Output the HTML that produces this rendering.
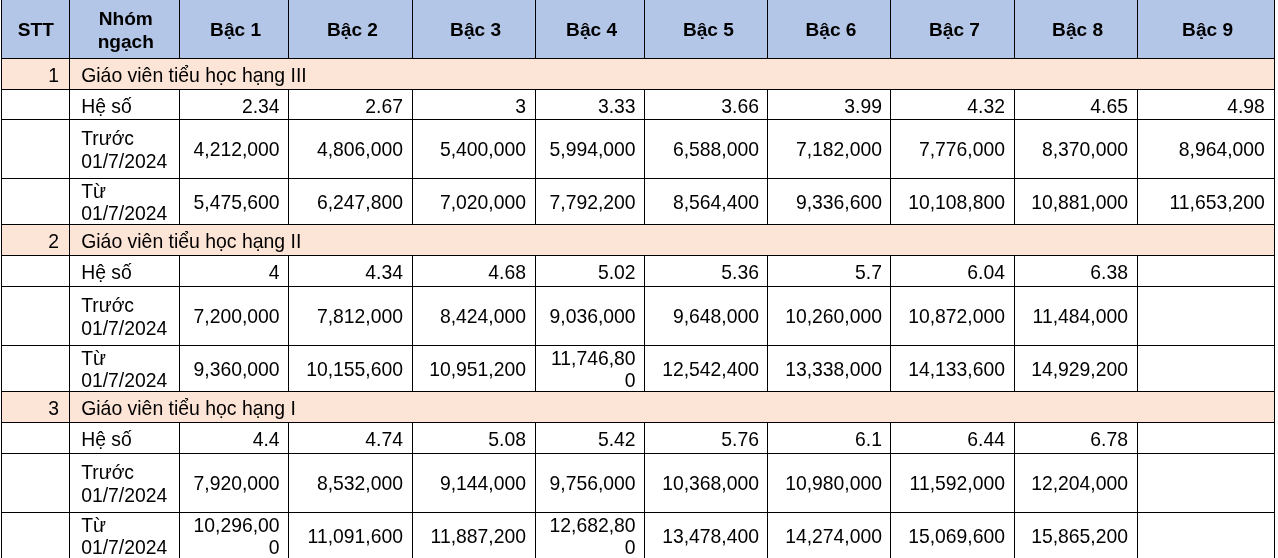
<!DOCTYPE html>
<html lang="vi"><head><meta charset="utf-8"><title>Bảng lương giáo viên tiểu học</title>
<style>
html,body{margin:0;padding:0;background:#fff;}
body{width:1278px;height:558px;overflow:hidden;position:relative;font-family:"Liberation Sans",Arial,sans-serif;font-size:19.35px;line-height:22px;color:#000;}
table{position:absolute;left:1px;top:0;width:1274px;border-collapse:separate;border-spacing:0;table-layout:fixed;}
td,th{position:relative;box-sizing:border-box;padding:0;margin:0;border:0 solid #000;border-right-width:1px;border-bottom-width:1px;white-space:nowrap;overflow:hidden;font-weight:normal;vertical-align:top;}
td:first-child,th:first-child{border-left-width:1px;}
td>span,th>span{position:absolute;left:0;right:0;display:block;height:22px;}
th{background:#b4c6e7;font-weight:bold;text-align:center;font-size:19.1px;}
.p{background:#fce4d6;}
.l{text-align:left;}
.l>span{left:11.2px;}
.r{text-align:right;}
.r>span{right:9px;}
td:nth-child(3)>span,td:nth-child(6)>span{right:8.4px;}
td:nth-child(7)>span,td:nth-child(8)>span{right:8px;}
td:nth-child(11)>span{right:9.2px;}
td.n>span{right:10px;}
.t>span{font-size:19.42px;}
</style></head><body>
<table>
<colgroup><col style="width:69px"><col style="width:110px"><col style="width:109px"><col style="width:124px"><col style="width:123px"><col style="width:109px"><col style="width:123px"><col style="width:123px"><col style="width:124px"><col style="width:123px"><col style="width:137px"></colgroup>
<thead><tr style="height:59px">
<th><span style="top:19px;left:0.6px">STT</span></th>
<th><span style="top:8px;left:2.6px">Nhóm</span> <span style="top:31px;left:2.6px">ngạch</span></th>
<th><span style="top:19px;left:3.2px">Bậc 1</span></th>
<th><span style="top:19px;left:4px">Bậc 2</span></th>
<th><span style="top:19px;left:3.2px">Bậc 3</span></th>
<th><span style="top:19px;left:3.2px">Bậc 4</span></th>
<th><span style="top:19px;left:4.8px">Bậc 5</span></th>
<th><span style="top:19px;left:4px">Bậc 6</span></th>
<th><span style="top:19px;left:4px">Bậc 7</span></th>
<th><span style="top:19px;left:3.2px">Bậc 8</span></th>
<th><span style="top:19px;left:3.2px">Bậc 9</span></th>
</tr></thead>
<tbody>
<tr style="height:31px"><td class="p r n"><span style="top:5px">1</span></td><td class="p l t" colspan="10"><span style="top:5px">Giáo viên tiểu học hạng III</span></td></tr>
<tr style="height:30px"><td></td><td class="l"><span style="top:5px">Hệ số</span></td><td class="r"><span style="top:5px">2.34</span></td><td class="r"><span style="top:5px">2.67</span></td><td class="r"><span style="top:5px">3</span></td><td class="r"><span style="top:5px">3.33</span></td><td class="r"><span style="top:5px">3.66</span></td><td class="r"><span style="top:5px">3.99</span></td><td class="r"><span style="top:5px">4.32</span></td><td class="r"><span style="top:5px">4.65</span></td><td class="r"><span style="top:5px">4.98</span></td></tr>
<tr style="height:59px"><td></td><td class="l"><span style="top:7px">Trước</span> <span style="top:30px">01/7/2024</span></td><td class="r"><span style="top:18px">4,212,000</span></td><td class="r"><span style="top:18px">4,806,000</span></td><td class="r"><span style="top:18px">5,400,000</span></td><td class="r"><span style="top:18px">5,994,000</span></td><td class="r"><span style="top:18px">6,588,000</span></td><td class="r"><span style="top:18px">7,182,000</span></td><td class="r"><span style="top:18px">7,776,000</span></td><td class="r"><span style="top:18px">8,370,000</span></td><td class="r"><span style="top:18px">8,964,000</span></td></tr>
<tr style="height:46px"><td></td><td class="l"><span style="top:1px">Từ</span> <span style="top:23px">01/7/2024</span></td><td class="r"><span style="top:12px">5,475,600</span></td><td class="r"><span style="top:12px">6,247,800</span></td><td class="r"><span style="top:12px">7,020,000</span></td><td class="r"><span style="top:12px">7,792,200</span></td><td class="r"><span style="top:12px">8,564,400</span></td><td class="r"><span style="top:12px">9,336,600</span></td><td class="r"><span style="top:12px">10,108,800</span></td><td class="r"><span style="top:12px">10,881,000</span></td><td class="r"><span style="top:12px">11,653,200</span></td></tr>
<tr style="height:31px"><td class="p r n"><span style="top:5px">2</span></td><td class="p l t" colspan="10"><span style="top:5px">Giáo viên tiểu học hạng II</span></td></tr>
<tr style="height:31px"><td></td><td class="l"><span style="top:5px">Hệ số</span></td><td class="r"><span style="top:5px">4</span></td><td class="r"><span style="top:5px">4.34</span></td><td class="r"><span style="top:5px">4.68</span></td><td class="r"><span style="top:5px">5.02</span></td><td class="r"><span style="top:5px">5.36</span></td><td class="r"><span style="top:5px">5.7</span></td><td class="r"><span style="top:5px">6.04</span></td><td class="r"><span style="top:5px">6.38</span></td><td></td></tr>
<tr style="height:59px"><td></td><td class="l"><span style="top:7px">Trước</span> <span style="top:30px">01/7/2024</span></td><td class="r"><span style="top:18px">7,200,000</span></td><td class="r"><span style="top:18px">7,812,000</span></td><td class="r"><span style="top:18px">8,424,000</span></td><td class="r"><span style="top:18px">9,036,000</span></td><td class="r"><span style="top:18px">9,648,000</span></td><td class="r"><span style="top:18px">10,260,000</span></td><td class="r"><span style="top:18px">10,872,000</span></td><td class="r"><span style="top:18px">11,484,000</span></td><td></td></tr>
<tr style="height:46px"><td></td><td class="l"><span style="top:1px">Từ</span> <span style="top:23px">01/7/2024</span></td><td class="r"><span style="top:12px">9,360,000</span></td><td class="r"><span style="top:12px">10,155,600</span></td><td class="r"><span style="top:12px">10,951,200</span></td><td class="r"><span style="top:1px">11,746,80</span><span style="top:23px">0</span></td><td class="r"><span style="top:12px">12,542,400</span></td><td class="r"><span style="top:12px">13,338,000</span></td><td class="r"><span style="top:12px">14,133,600</span></td><td class="r"><span style="top:12px">14,929,200</span></td><td></td></tr>
<tr style="height:31px"><td class="p r n"><span style="top:5px">3</span></td><td class="p l t" colspan="10"><span style="top:5px">Giáo viên tiểu học hạng I</span></td></tr>
<tr style="height:31px"><td></td><td class="l"><span style="top:5px">Hệ số</span></td><td class="r"><span style="top:5px">4.4</span></td><td class="r"><span style="top:5px">4.74</span></td><td class="r"><span style="top:5px">5.08</span></td><td class="r"><span style="top:5px">5.42</span></td><td class="r"><span style="top:5px">5.76</span></td><td class="r"><span style="top:5px">6.1</span></td><td class="r"><span style="top:5px">6.44</span></td><td class="r"><span style="top:5px">6.78</span></td><td></td></tr>
<tr style="height:59px"><td></td><td class="l"><span style="top:7px">Trước</span> <span style="top:30px">01/7/2024</span></td><td class="r"><span style="top:18px">7,920,000</span></td><td class="r"><span style="top:18px">8,532,000</span></td><td class="r"><span style="top:18px">9,144,000</span></td><td class="r"><span style="top:18px">9,756,000</span></td><td class="r"><span style="top:18px">10,368,000</span></td><td class="r"><span style="top:18px">10,980,000</span></td><td class="r"><span style="top:18px">11,592,000</span></td><td class="r"><span style="top:18px">12,204,000</span></td><td></td></tr>
<tr style="height:46px"><td></td><td class="l"><span style="top:1px">Từ</span> <span style="top:23px">01/7/2024</span></td><td class="r"><span style="top:1px">10,296,00</span><span style="top:23px">0</span></td><td class="r"><span style="top:12px">11,091,600</span></td><td class="r"><span style="top:12px">11,887,200</span></td><td class="r"><span style="top:1px">12,682,80</span><span style="top:23px">0</span></td><td class="r"><span style="top:12px">13,478,400</span></td><td class="r"><span style="top:12px">14,274,000</span></td><td class="r"><span style="top:12px">15,069,600</span></td><td class="r"><span style="top:12px">15,865,200</span></td><td></td></tr>
</tbody></table>
</body></html>
